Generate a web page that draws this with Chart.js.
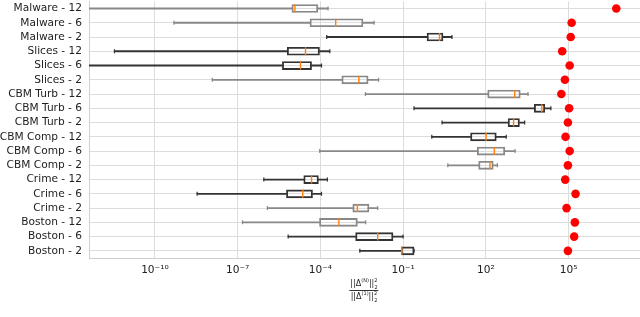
<!DOCTYPE html>
<html>
<head>
<meta charset="utf-8">
<script src="https://cdn.jsdelivr.net/npm/chart.js@4"></script>
<style>
  body { margin: 0; background: #fff; overflow: hidden; }
  #wrap { position: relative; width: 640px; height: 317px; overflow: hidden; }
  #myChart { position: absolute; left: 0; top: -4px; }
  #frac { position: absolute; left: 364px; top: 279px; transform: translateX(-50%);
          font: 8px "DejaVu Sans", sans-serif; color: #222; text-align: center; line-height: 10px; }
  #frac .num { border-bottom: 1px solid #333; padding: 0 1px 1px; }
  #frac .den { padding-top: 1px; }
  #frac sup, #frac sub { font-size: 5px; line-height: 0; }
</style>
</head>
<body>
<div id="wrap">
  <canvas id="myChart" width="647" height="321"></canvas>
  <div id="frac">
    <div class="num">||Δ<sup>(N)</sup>||<sup>2</sup><sub style="margin-left:-3px">2</sub></div>
    <div class="den">||Δ<sup>(1)</sup>||<sup>2</sup><sub style="margin-left:-3px">2</sub></div>
  </div>
</div>
<script>
// rows, top to bottom
var labels = ['Malware - 12', 'Malware - 6', 'Malware - 2',
              'Slices - 12', 'Slices - 6', 'Slices - 2',
              'CBM Turb - 12', 'CBM Turb - 6', 'CBM Turb - 2',
              'CBM Comp - 12', 'CBM Comp - 6', 'CBM Comp - 2',
              'Crime - 12', 'Crime - 6', 'Crime - 2',
              'Boston - 12', 'Boston - 6', 'Boston - 2'];

// box plot stats
var whiskLow  = [1e-13, 4.9e-10, 1.7e-4, 3.4e-12, 1e-13, 1.2e-8, 4.3e-3, 0.25, 2.6, 1.1, 9.5e-5, 4.2,
                 8.9e-7, 3.4e-9, 1.2e-6, 1.5e-7, 6.8e-6, 2.7e-3];
var q1        = [9.3e-6, 4.2e-5, 0.74, 6.3e-6, 4.2e-6, 6.0e-4, 117, 5750, 645, 28, 49, 55,
                 2.5e-5, 5.9e-6, 1.5e-3, 9.3e-5, 1.9e-3, 0.085];
var medians   = [1.2e-5, 3.6e-4, 2.1, 2.9e-5, 1.9e-5, 2.5e-3, 1120, 10700, 1020, 102, 204, 141,
                 4.8e-5, 2.3e-5, 2.2e-3, 4.7e-4, 0.012, 0.089];
var q3        = [8.1e-5, 3.5e-3, 2.8, 9.3e-5, 4.8e-5, 5.4e-3, 1780, 13800, 1660, 240, 490, 186,
                 8.5e-5, 5.2e-5, 5.8e-3, 2.2e-3, 0.043, 0.25];
var whiskHigh = [1.9e-4, 8.9e-3, 5.9, 2.2e-4, 1.1e-4, 0.013, 3400, 22900, 2570, 550, 1150, 263,
                 1.8e-4, 1.1e-4, 0.012, 4.4e-3, 0.10, 0.25];
// red markers
var redValues = [5.4e6, 1.3e5, 1.2e5, 5.9e4, 1.1e5, 7.4e4, 5.5e4, 1.05e5, 9.5e4, 7.8e4, 1.1e5, 9.5e4,
                 7.6e4, 1.8e5, 8.5e4, 1.7e5, 1.6e5, 9.5e4];

var tickValues = [1e-10, 1e-7, 1e-4, 1e-1, 1e2, 1e5];

// some rows are drawn darker than others
var darkRows = [0, 0, 1, 1, 1, 0, 0, 1, 1, 1, 0, 0, 1, 1, 0, 0, 1, 1];
var edge = darkRows.map(function(d){ return d ? '#333' : '#888'; });

var sup = {'-': '⁻', '0': '⁰', '1': '¹', '2': '²', '3': '³', '4': '⁴', '5': '⁵', '6': '⁶', '7': '⁷', '8': '⁸', '9': '⁹'};
function pow_label(v){
  var e = String(Math.round(Math.log10(v)));
  return '10' + e.split('').map(function(c){ return sup[c]; }).join('');
}

function points(vals, skip){
  var out = [];
  vals.forEach(function(v, i){
    if(!skip || v > 1e-12) out.push({x: v, y: labels[i]});
  });
  return out;
}

var ctx = document.getElementById('myChart');
window.chart = new Chart(ctx, {
  type: 'bar',
  data: {
    labels: labels,
    datasets: [
      { // red dots
        type: 'scatter', order: 0, indexAxis: 'y',
        data: points(redValues),
        pointRadius: 4.3, pointBackgroundColor: '#ff0000', pointBorderWidth: 0
      },
      { // medians
        type: 'scatter', order: 1, indexAxis: 'y',
        data: points(medians),
        pointStyle: 'line', rotation: 90, pointRadius: 4,
        pointBorderColor: '#ff7f0e', pointBorderWidth: 1.4
      },
      { // boxes
        order: 2, grouped: false,
        data: labels.map(function(l, i){ return [q1[i], q3[i]]; }),
        backgroundColor: 'rgba(255,255,255,0)', borderColor: edge,
        borderWidth: 1.2, borderSkipped: false, barThickness: 8
      },
      { // whisker caps
        type: 'scatter', order: 3, indexAxis: 'y',
        data: points(whiskLow, true).concat(points(whiskHigh)),
        pointStyle: 'line', rotation: 90, pointRadius: 2,
        pointBorderColor: function(c){ return edge[labels.indexOf(c.raw.y)]; },
        pointBorderWidth: 1.2
      },
      { // lower whiskers
        order: 4, grouped: false,
        data: labels.map(function(l, i){ return [whiskLow[i], q1[i]]; }),
        backgroundColor: edge, borderWidth: 0, barThickness: 1.2
      },
      { // upper whiskers
        order: 4, grouped: false,
        data: labels.map(function(l, i){ return [q3[i], whiskHigh[i]]; }),
        backgroundColor: edge, borderWidth: 0, barThickness: 1.2
      }
    ]
  },
  options: {
    indexAxis: 'y',
    responsive: false,
    animation: false,
    events: [],
    layout: { padding: 0 },
    plugins: { legend: { display: false }, tooltip: { enabled: false } },
    scales: {
      x: {
        type: 'logarithmic',
        min: 4.07e-13, max: 4.47e7,
        afterBuildTicks: function(s){
          s.ticks = tickValues.map(function(v){ return {value: v}; });
        },
        afterFit: function(s){
          s.height = 59;
          s.paddingLeft = 0; s.paddingRight = 0;
        },
        ticks: {
          autoSkip: false, maxRotation: 0, padding: 6,
          color: '#222', font: { family: 'DejaVu Sans', size: 10.6 },
          callback: function(v){ return pow_label(v); }
        },
        grid: { color: '#dcdcdc', lineWidth: 1, drawTicks: false },
        border: { color: '#cfcfcf' }
      },
      y: {
        type: 'category',
        afterFit: function(s){
          s.width = 89;
          s.paddingTop = 0; s.paddingBottom = 0;
        },
        ticks: {
          autoSkip: false, padding: 7, color: '#222',
          font: { family: 'DejaVu Sans', size: 10.6 }
        },
        grid: { color: '#dcdcdc', lineWidth: 1, offset: false, drawTicks: false },
        border: { color: '#cfcfcf' }
      }
    }
  }
});
</script>
</body>
</html>
